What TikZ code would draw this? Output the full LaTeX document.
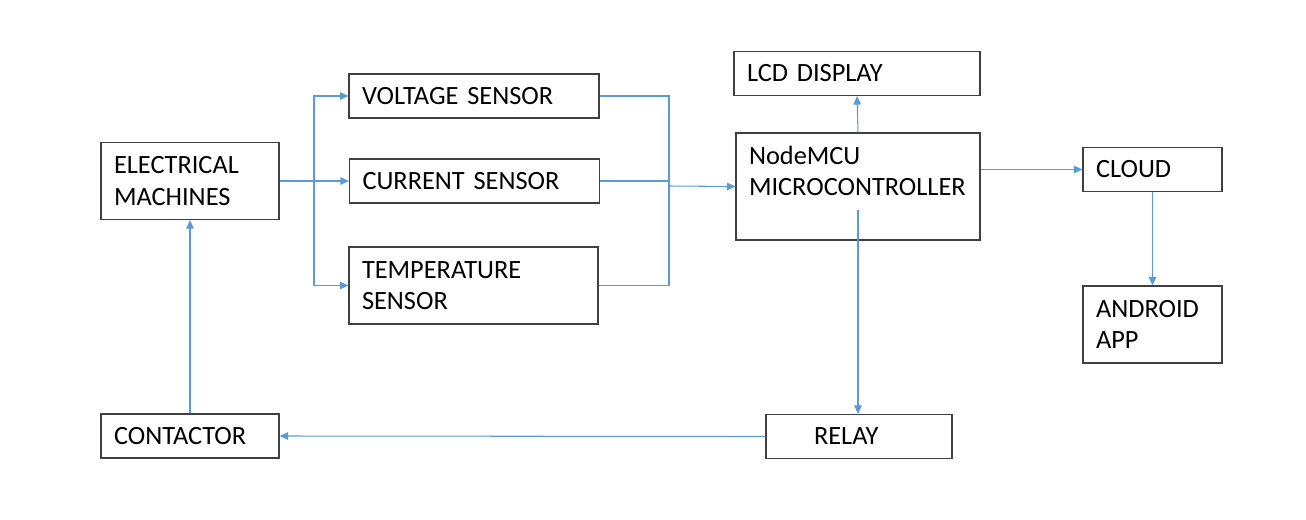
\documentclass[tikz,border=0pt]{standalone}
\usepackage{fontspec}
\setmainfont{Carlito}
\usepackage{tikz}
\usetikzlibrary{arrows.meta, calc, positioning}
\usepackage{xcolor}
\definecolor{wire}{RGB}{91,155,213}
\definecolor{frame}{RGB}{64,64,64}

\begin{document}
\begin{tikzpicture}

% TikZ styles
\tikzset{
  block/.style={rectangle, draw=frame, line width=0.65pt, inner xsep=0.26cm, inner ysep=0pt, align=left, font=\fontsize{15}{17.7}\selectfont},
  short/.style={minimum height=0.88cm},
  tall/.style={minimum height=1.54cm},
  arrow/.style={-{Triangle[length=0.17cm, width=0.15cm]}, draw=wire, line width=0.6pt},
  wireline/.style={draw=wire, line width=0.6pt}
}
\useasboundingbox (0,0) rectangle (26.12,10.38);

%==========================
% Bloecke
%==========================
\node[block, tall, text width=3.04cm]  (machines)  at (3.80, 6.76) {ELECTRICAL\\MACHINES};
\node[block, short, text width=3.04cm] (contactor) at (3.80, 1.66) {CONTACTOR};

\node[block, short, text width=4.48cm] (voltage) at (9.48, 8.46) {VOLTAGE SENSOR};
\node[block, short, text width=4.48cm] (current) at (9.49, 6.76) {CURRENT SENSOR};
\node[block, tall, text width=4.46cm]  (temp)    at (9.47, 4.67) {TEMPERATURE\\SENSOR};

\node[block, short, text width=4.40cm] (lcd)   at (17.14, 8.91) {LCD DISPLAY};
\node[block, text width=4.36cm, minimum height=2.14cm] (mcu) at (17.16, 6.65) {NodeMCU\\MICROCONTROLLER\\ \mbox{}};
\node[block, short, text width=3.20cm] (relay) at (17.18, 1.65) {\hspace*{0.7cm}RELAY};

\node[block, short, text width=2.26cm] (cloud)   at (23.05, 6.99) {CLOUD};
\node[block, tall, text width=2.26cm]  (android) at (23.05, 3.89) {ANDROID\\APP};

\node[coordinate] (splitpoint) at (6.28, 6.76) {};
\node[coordinate] (joinpoint)  at (13.38, 6.66) {};

%Pfeile links
\draw[arrow] (machines.east) -- (current.west);
\draw[arrow] (splitpoint) |- (voltage.west);
\draw[arrow] (splitpoint) |- (temp.west);

%Pfeile zum Controller
\draw[wireline] (voltage.east) -| (joinpoint);
\draw[wireline] (current.east) -- (current.east -| joinpoint);
\draw[wireline] (temp.east) -| (joinpoint);
\draw[arrow] (joinpoint) -- (mcu.west);

%Pfeile rechts
\draw[arrow] (mcu.north) -- (lcd.south);
\draw[arrow] (mcu.east |- cloud.west) -- (cloud.west);
\draw[arrow] (cloud.south) -- (android.north);

%Rueckkopplung
\draw[arrow] ($(mcu.center)+(0,-0.47)$) -- (mcu.center |- relay.north);
\draw[arrow] (relay.west) -- (contactor.east);
\draw[arrow] (contactor.north) -- (machines.south);
\end{tikzpicture}
\end{document}
